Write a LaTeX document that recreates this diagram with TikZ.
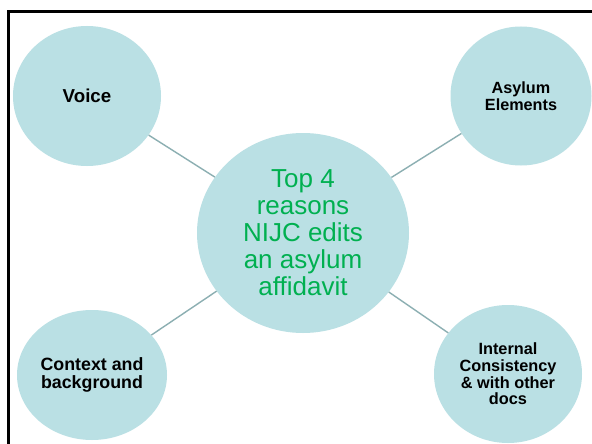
\documentclass[tikz,border=0pt]{standalone}
\usepackage{fontspec}
\setmainfont{Liberation Sans}
\usetikzlibrary{shapes.geometric}
\definecolor{bubblefill}{RGB}{186,224,228}
\definecolor{linkcol}{RGB}{140,175,178}
\definecolor{titlegreen}{RGB}{0,176,80}
\tikzset{
  bubble/.style={ellipse, fill=bubblefill, draw=none, inner sep=0pt, align=center, text=black},
  linkline/.style={draw=linkcol, line width=1.4pt},
  frameline/.style={draw=black, line width=2.6pt}
}
\begin{document}
\begin{tikzpicture}[x=1pt,y=-1pt]
\clip (0,0) rectangle (592,444);
\fill[white] (0,0) rectangle (592,444);
\draw[frameline] (8.7,11.3) rectangle (640,480);
\node[bubble, minimum width=212pt, minimum height=200pt, text=titlegreen,
  font=\fontsize{26}{27}\selectfont] (center) at (303,233)
  {Top 4\\reasons\\NIJC edits\\an asylum\\affidavit};
\node[bubble, minimum width=148pt, minimum height=140pt,
  font=\fontsize{18.7}{22}\selectfont\bfseries] (voice) at (87,96) {Voice};
\node[bubble, minimum width=141pt, minimum height=139pt,
  font=\fontsize{16.2}{17}\selectfont\bfseries] (asylum) at (521,96) {Asylum\\Elements};
\node[bubble, minimum width=150pt, minimum height=130pt,
  font=\fontsize{17.8}{17.5}\selectfont\bfseries] (context) at (92,375) {Context and\\background};
\node[bubble, minimum width=148pt, minimum height=138pt,
  font=\fontsize{16.3}{16.7}\selectfont\bfseries] (internal) at (508,374)
  {Internal\\Consistency\\\& with other\\docs};
\draw[linkline] (center) -- (voice);
\draw[linkline] (center) -- (asylum);
\draw[linkline] (center) -- (context);
\draw[linkline] (center) -- (internal);
\end{tikzpicture}
\end{document}
